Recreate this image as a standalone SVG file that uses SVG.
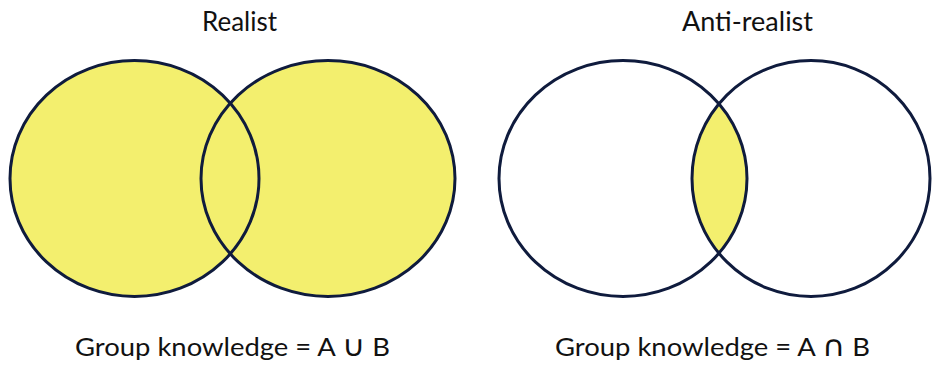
<svg xmlns="http://www.w3.org/2000/svg" width="934" height="374" viewBox="0 0 934 374">
  <style>
    .title { font-family: "Lato", "Open Sans", "Liberation Sans", sans-serif; font-size: 27px; fill: #111111; text-anchor: start; }
    .label { font-family: "Lato", "Open Sans", "Liberation Sans", sans-serif; font-size: 25px; fill: #111111; text-anchor: start; }
    .sym { font-family: "DejaVu Sans", sans-serif; font-size: 29px; font-weight: 400; }
    .ring { fill: none; stroke: #0f1b3d; stroke-width: 3; }
    .yellow { fill: #f3ef6e; }
    .white { fill: #ffffff; }
  </style>
  <defs>
    <clipPath id="clipRA">
      <ellipse cx="623" cy="178.5" rx="124" ry="118"/>
    </clipPath>
  </defs>
  <rect x="0" y="0" width="934" height="374" fill="#ffffff"/>

  <g id="realist">
    <text class="title" x="202" y="31" textLength="75" lengthAdjust="spacingAndGlyphs">Realist</text>
    <g id="realist-A">
      <ellipse class="yellow" cx="134.5" cy="178.5" rx="124.5" ry="118"/>
    </g>
    <g id="realist-B">
      <ellipse class="yellow" cx="328" cy="178.5" rx="127" ry="118"/>
    </g>
    <ellipse class="ring" cx="134.5" cy="178.5" rx="124.5" ry="118"/>
    <ellipse class="ring" cx="328" cy="178.5" rx="127" ry="118"/>
    <text class="label" x="75" y="356" textLength="315" lengthAdjust="spacingAndGlyphs">Group knowledge = A <tspan class="sym">∪</tspan> B</text>
  </g>

  <g id="anti-realist">
    <text class="title" x="682" y="31" textLength="131" lengthAdjust="spacingAndGlyphs">Anti-realist</text>
    <g id="anti-A">
      <ellipse class="white" cx="623" cy="178.5" rx="124" ry="118"/>
    </g>
    <g id="anti-B">
      <ellipse class="white" cx="811" cy="178.5" rx="119" ry="118"/>
    </g>
    <g id="anti-intersection">
      <ellipse class="yellow" cx="811" cy="178.5" rx="119" ry="118" clip-path="url(#clipRA)"/>
    </g>
    <ellipse class="ring" cx="623" cy="178.5" rx="124" ry="118"/>
    <ellipse class="ring" cx="811" cy="178.5" rx="119" ry="118"/>
    <text class="label" x="555" y="356" textLength="315" lengthAdjust="spacingAndGlyphs">Group knowledge = A <tspan class="sym">∩</tspan> B</text>
  </g>

  <g id="connectors"></g>
</svg>
